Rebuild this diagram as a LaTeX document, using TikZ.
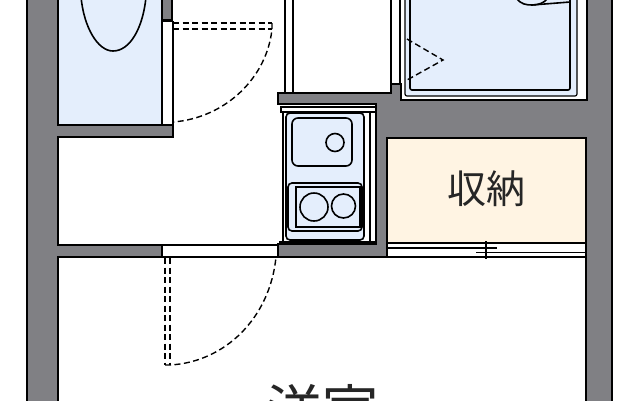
\documentclass[tikz,border=0pt]{standalone}
\usepackage{fontspec}
\newfontfamily\cjkfont{Noto Sans CJK JP}
\usetikzlibrary{positioning}
\definecolor{wallgray}{HTML}{808084}
\definecolor{roomblue}{HTML}{E4EEFC}
\definecolor{closetcream}{HTML}{FFF4E3}
\tikzset{
  wall/.style={fill=wallgray, draw=black, line width=2.8pt, line join=miter},
  fixture/.style={draw=black, line width=1.6pt},
  thinline/.style={draw=black, line width=1.2pt},
  swing/.style={draw=black, line width=1.4pt, dash pattern=on 6pt off 3.5pt},
  roomlabel/.style={inner sep=0pt, text=black!85}
}
\begin{document}
\begin{tikzpicture}[x=1pt,y=-1pt]
\useasboundingbox (0,0) rectangle (640,400);
\fill[white] (0,0) rectangle (640,400);
% rooms
\fill[roomblue] (58,-3) rectangle (162,125);
\fill[closetcream] (387,137) rectangle (586,243);
\fill[roomblue] (405,-3) rectangle (577,96);
\fill[roomblue] (286,113) rectangle (364,240);
% walls
\draw[wall] (58,-3) -- (58,125) -- (173,125) -- (173,137) -- (58,137) -- (58,245) -- (162,245) -- (162,257) -- (58,257) -- (58,403) -- (27,403) -- (27,-3) -- cycle;
\draw[wall] (587,-3) -- (587,100) -- (401,100) -- (401,84) -- (391,84) -- (391,93) -- (278,93) -- (278,104) -- (376,104) -- (376,244) -- (278,244) -- (278,257) -- (387,257) -- (387,138) -- (586,138) -- (586,403) -- (612,403) -- (612,-3) -- cycle;
\draw[fill=wallgray, draw=black, line width=1.8pt] (162,-3) rectangle (172,20);
% bath opening
\draw[thinline] (162,20) -- (162,125);
\draw[thinline] (173,21) -- (173,125);
\draw[thick] (162,21) -- (173,21);
\draw[line width=2pt] (162,257) -- (278,257);
\draw[thinline] (162,245) -- (278,245);
% tub
\draw[fixture] (81,-3) .. controls (84,28) and (98,51) .. (113,51) .. controls (130,51) and (143,28) .. (146,-3);
\draw[fixture] (517,-1) .. controls (521,4) and (526,5) .. (532,5) .. controls (538,5) and (544,3) .. (547,-1);
\draw[fixture] (532,5) -- (570,2);
% doors
\draw[swing] (173,23) -- (272,23);
\draw[swing] (173,29) -- (272,29);
\draw[swing] (272,23) -- (272,29) .. controls (267,78) and (225,118) .. (173,122);
\draw[swing] (165,258) -- (165,365);
\draw[swing] (170,258) -- (170,365);
\draw[swing] (165,365) -- (170,365) .. controls (225,362) and (270,318) .. (276,257);
\draw[swing] (407,39) -- (443,60) -- (407,80);
% corridor lines
\draw[thinline] (285,-3) -- (285,92);
\draw[thinline] (293,-3) -- (293,92);
\draw[thinline] (391,-3) -- (391,84);
\draw[thinline] (400,-3) -- (400,84);
% shower frame
\draw[thinline, rounded corners=2pt] (405,-3) -- (405,96) -- (577,96) -- (577,-3);
\draw[fixture, rounded corners=2pt] (410,-3) -- (410,90) -- (570,90) -- (570,-3);
% kitchen
\draw[thinline] (281,107) rectangle (376,112);
\draw[line width=2.8pt] (283,112) -- (283,243);
\draw[line width=2.8pt] (279,242) -- (376,242);
\draw[thinline] (370,112) -- (370,242);
\draw[fixture, rounded corners=4pt] (286,113) rectangle (364,240);
\draw[fixture, rounded corners=6pt] (292,118) rectangle (352,166);
\draw[fixture] (335,142.5) circle (9);
\draw[fixture, rounded corners=4pt] (288,183) rectangle (362,231);
\draw[fixture] (296,187) rectangle (360,227);
\draw[fixture] (314,207) circle (14);
\draw[fixture] (343.5,206) circle (12);
% sliding door
\draw[thinline] (387,243) -- (586,243);
\draw[fixture] (387,248) -- (497,248);
\draw[fixture] (476,252.5) -- (586,252.5);
\draw[fixture] (387,257) -- (586,257);
\draw[fixture] (486,241) -- (486,259);
% labels
\node[roomlabel, font=\cjkfont\fontsize{39}{39}\selectfont] (closet) at (486,188.5) {収納};
\node[roomlabel, font=\cjkfont\fontsize{56}{56}\selectfont, anchor=north] (room) at (322,384) {洋室};
\end{tikzpicture}
\end{document}
